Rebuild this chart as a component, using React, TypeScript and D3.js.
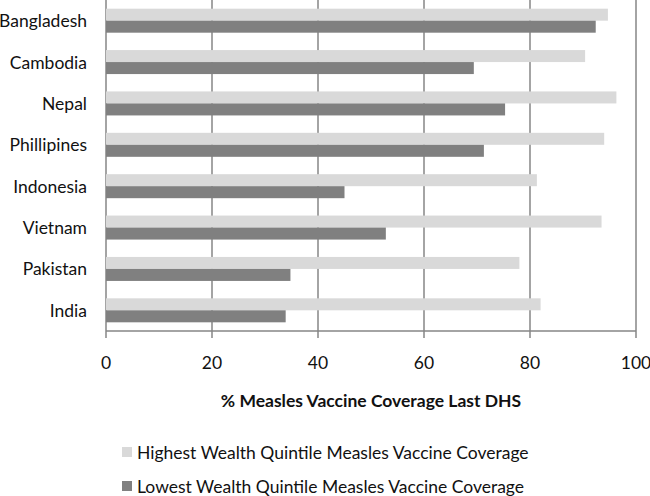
import React from "react";
import * as d3 from "d3";

const categories = ["Bangladesh", "Cambodia", "Nepal", "Phillipines", "Indonesia", "Vietnam", "Pakistan", "India"];
const highest = [94.7, 90.4, 96.3, 94.0, 81.3, 93.5, 78.0, 82.0];
const lowest = [92.4, 69.4, 75.3, 71.3, 45.0, 52.8, 34.8, 33.9];
const ticks = [0, 20, 40, 60, 80, 100];
const seriesNames = [
  "Highest Wealth Quintile Measles Vaccine Coverage",
  "Lowest Wealth Quintile Measles Vaccine Coverage",
];
const colors = ["#d9d9d9", "#808080"];
const axisTitle = "% Measles Vaccine Coverage Last DHS";

export default function App() {
  const W = 650, H = 496;
  const left = 106, right = 636, top = 0, bottom = 331;
  const x = d3.scaleLinear().domain([0, 100]).range([left, right]);
  const y = d3.scaleBand().domain(categories).range([top, bottom]).paddingInner(0.42).paddingOuter(0.21);
  const sub = d3.scaleBand().domain(["h", "l"]).range([0, y.bandwidth()]);
  const font = "Lato, 'Open Sans', sans-serif";
  const grid = "#868686";
  const legendY = [452, 486];
  return (
    <svg width={W} height={H} style={{ position: "absolute", left: 0, top: 0, background: "#fff" }}>
      {ticks.map((t) => (
        <line key={t} x1={x(t)} x2={x(t)} y1={top} y2={bottom + 7} stroke={grid} strokeWidth={1.5} />
      ))}
      <line x1={left} x2={right} y1={bottom} y2={bottom} stroke={grid} strokeWidth={1.5} />
      {categories.map((c, i) => (
        <g key={c}>
          <rect x={x(0)} y={(y(c) as number) + (sub("h") as number)} width={x(highest[i]) - x(0)} height={sub.bandwidth()} fill={colors[0]} />
          <rect x={x(0)} y={(y(c) as number) + (sub("l") as number)} width={x(lowest[i]) - x(0)} height={sub.bandwidth()} fill={colors[1]} />
          <text x={87} y={(y(c) as number) + y.bandwidth() / 2} textAnchor="end" dominantBaseline="central" fontFamily={font} fontSize={17.5} fill="#111">{c}</text>
        </g>
      ))}
      {ticks.map((t) => (
        <text key={t} x={x(t)} y={362} textAnchor="middle" dominantBaseline="central" fontFamily={font} fontSize={17.5} fill="#111">{t}</text>
      ))}
      <text x={(left + right) / 2} y={400} textAnchor="middle" dominantBaseline="central" fontFamily={font} fontSize={17.5} fontWeight="bold" fill="#111">{axisTitle}</text>
      {seriesNames.map((s, i) => (
        <g key={s}>
          <rect x={122} y={legendY[i] - 5} width={10} height={10} fill={colors[i]} />
          <text x={137} y={legendY[i]} dominantBaseline="central" fontFamily={font} fontSize={17.5} fill="#111">{s}</text>
        </g>
      ))}
    </svg>
  );
}
